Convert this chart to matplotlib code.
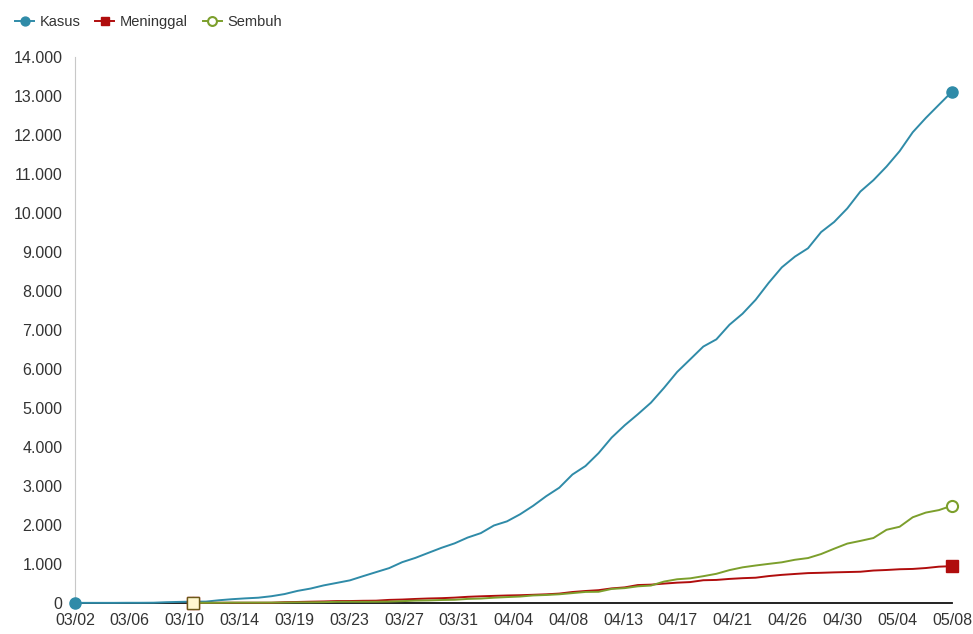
import numpy as np
import matplotlib.pyplot as plt
from matplotlib.ticker import FuncFormatter

plt.rcParams['font.family'] = ['Liberation Sans', 'DejaVu Sans']

# Tanggal 03/02 .. 05/08
tick_labels = ['03/02', '03/06', '03/10', '03/14', '03/19', '03/23', '03/27', '03/31',
               '04/04', '04/08', '04/13', '04/17', '04/21', '04/26', '04/30', '05/04', '05/08']

# Kasus kumulatif mulai 03/02
kasus = [2, 2, 2, 2, 4, 4, 6, 19, 27, 34, 34, 69, 96, 117, 134, 172, 227, 309, 369, 450,
         514, 579, 686, 790, 893, 1046, 1155, 1285, 1414, 1528,
         1677, 1790, 1986, 2092, 2273, 2491, 2738, 2956, 3293, 3512, 3842, 4241, 4557, 4839,
         5136, 5516, 5923, 6248, 6575, 6760, 7135, 7418, 7775, 8211, 8607, 8882, 9096, 9511,
         9771, 10118,
         10551, 10843, 11192, 11587, 12071, 12438, 12776, 13112]

# Meninggal & Sembuh mulai 03/11
mulai = 9
meninggal = [1, 1, 4, 5, 5, 5, 5, 19, 25, 32, 38, 48, 49, 55, 58, 78, 87, 102, 114, 122, 136,
             157, 170, 181, 191, 198, 209, 221, 240, 280, 306, 327, 373, 399, 459, 469, 496,
             520, 535, 582, 590, 616, 635, 647, 689, 720, 743, 765, 773, 784, 792,
             800, 831, 845, 864, 872, 895, 930, 943]
sembuh = [2, 3, 5, 8, 8, 8, 9, 11, 15, 16, 20, 29, 30, 30, 31, 35, 46, 59, 64, 75, 81,
          103, 112, 134, 150, 164, 192, 204, 222, 252, 282, 286, 359, 380, 426, 446, 548,
          607, 631, 686, 747, 842, 913, 960, 1002, 1042, 1107, 1151, 1254, 1391, 1522,
          1591, 1665, 1876, 1954, 2197, 2317, 2381, 2494]

c_kasus = '#2f8ba8'
c_mati = '#b00d0d'
c_sembuh = '#7c9f2c'

fig = plt.figure(figsize=(9.73, 6.34), dpi=100)
ax = fig.add_axes([0.0771, 0.049, 0.9013, 0.861])

t = np.arange(len(kasus))
t2 = np.arange(mulai, mulai + len(meninggal))

ax.plot(t, kasus, color=c_kasus, lw=1.4, marker='o', markersize=8,
        markevery=[0, len(kasus) - 1], clip_on=False, zorder=3, label='Kasus')
ax.plot(t2, sembuh, color=c_sembuh, lw=1.4, marker='o', markersize=8,
        markerfacecolor='white', markeredgewidth=1.5,
        markevery=[0, len(sembuh) - 1], clip_on=False, zorder=4, label='Sembuh')
ax.plot(t2, meninggal, color=c_mati, lw=1.4, marker='s', markersize=8,
        markevery=[0, len(meninggal) - 1], clip_on=False, zorder=3, label='Meninggal')
# kotak awal di 03/11 tampak terang
ax.plot(t2[0], meninggal[0], marker='s', markersize=8, markerfacecolor='#fff8d0',
        markeredgecolor='#6b5a1a', clip_on=False, zorder=5)

ax.set_xlim(0, len(kasus) - 1)
ax.set_ylim(0, 14000)
ax.set_xticks(np.linspace(0, len(kasus) - 1, len(tick_labels)))
ax.set_xticklabels(tick_labels)
ax.set_yticks(np.arange(0, 14001, 1000))
ax.yaxis.set_major_formatter(FuncFormatter(lambda v, p: f'{int(v):,}'.replace(',', '.')))
ax.tick_params(length=0, labelsize=11.5, colors='#333333')
ax.tick_params(axis='x', pad=7)
ax.tick_params(axis='y', pad=9)

for s in ['top', 'right']:
    ax.spines[s].set_visible(False)
ax.spines['left'].set_color('#c8c8c8')
ax.spines['bottom'].set_color('#111111')
ax.spines['bottom'].set_linewidth(1.3)

h, l = ax.get_legend_handles_labels()
order = [0, 2, 1]
fig.legend([h[i] for i in order], [l[i] for i in order], loc='upper left',
           bbox_to_anchor=(0.002, 0.997), ncol=3, frameon=False, fontsize=10.5,
           handlelength=1.3, handletextpad=0.4, columnspacing=1.0, markerscale=0.8,
           labelcolor='#333333')

fig.savefig('out.png')
